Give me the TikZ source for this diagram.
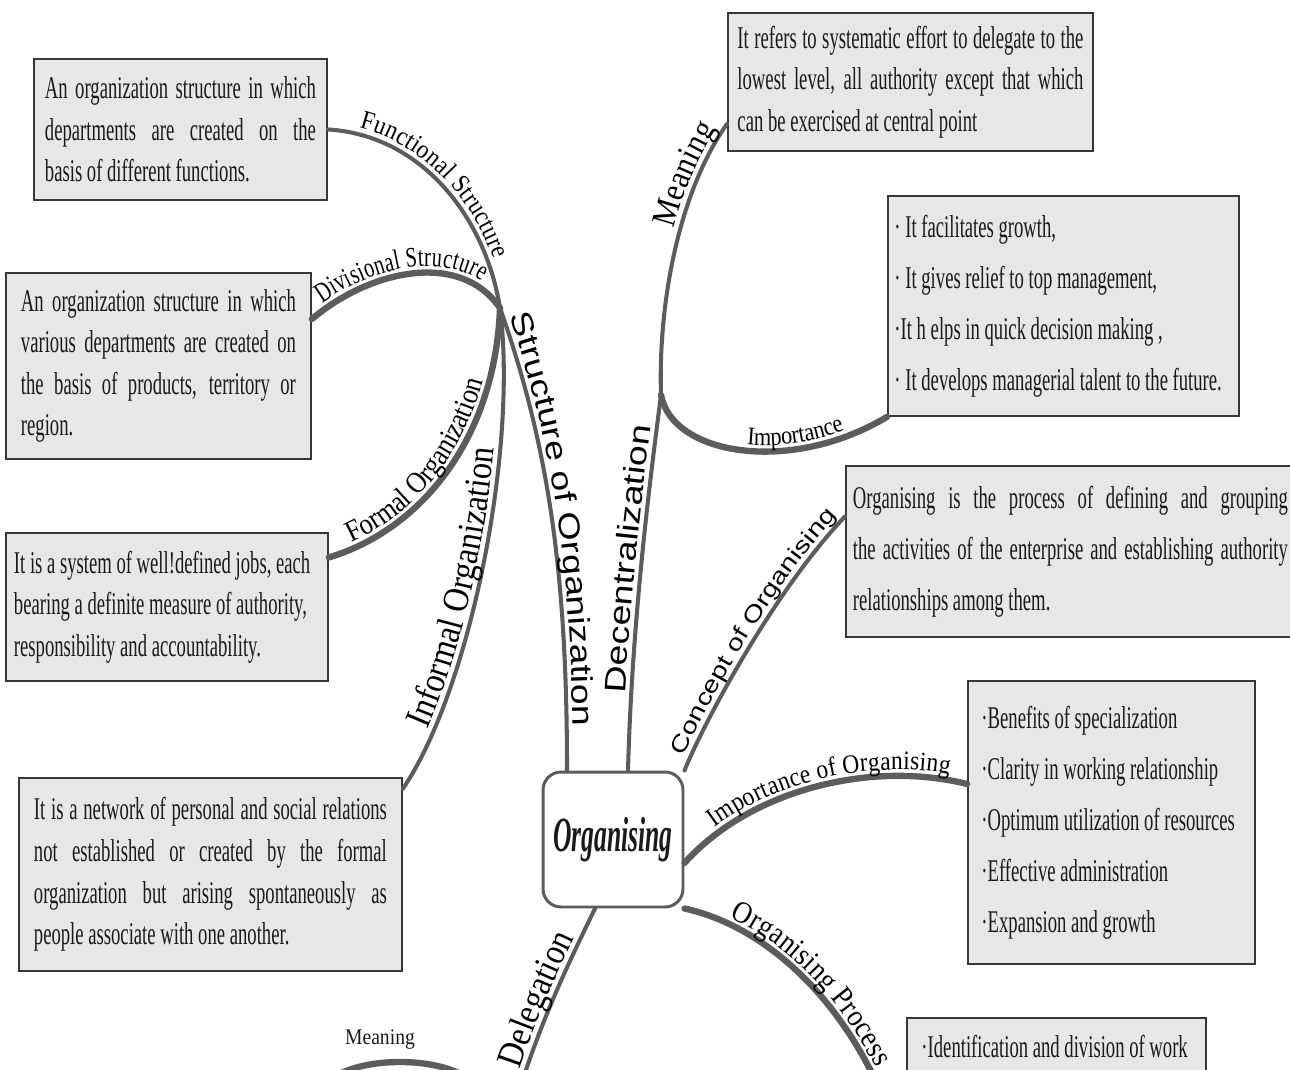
\documentclass[tikz,border=0pt]{standalone}
\usepackage{fontspec}
\setmainfont{Liberation Serif}
\newfontfamily\boxserif[FakeStretch=0.59]{Liberation Serif}
\newfontfamily\lblserif[FakeStretch=0.88]{Liberation Serif}
\newfontfamily\lblnarrow[FakeStretch=0.72]{Liberation Serif}
\newfontfamily\lblsans[FakeStretch=1.25]{Liberation Sans}
\newfontfamily\orgserif[FakeStretch=0.52]{Liberation Serif}
\usetikzlibrary{decorations.text}

\definecolor{branchgray}{RGB}{92,92,92}
\definecolor{boxfill}{RGB}{231,231,231}
\definecolor{boxline}{RGB}{55,55,55}
\definecolor{inkgray}{RGB}{25,25,25}

\newcommand{\tightspace}{\spaceskip=2.65pt plus 1.5pt minus 0.8pt\relax}
\newcommand{\jl}[1]{\makebox[\linewidth][s]{\tightspace #1}}
\newcommand{\pl}[1]{\mbox{\tightspace #1}}
\newcommand{\boxfont}[1]{\boxserif\fontsize{18}{#1}\selectfont}
\newcommand{\serifsz}[1]{\lblserif\fontsize{#1}{#1}\selectfont}
\newcommand{\narrowsz}[1]{\lblnarrow\fontsize{#1}{#1}\selectfont}
\newcommand{\sanssz}[1]{\lblsans\fontsize{#1}{#1}\selectfont}

\begin{document}
\begin{tikzpicture}[x=0.02cm, y=-0.02cm,
  infobox/.style n args={3}{draw=boxline, line width=1.1pt, fill=boxfill, anchor=north west,
    minimum width=#1, minimum height=#2, text width=#3, align=left, inner sep=0pt,
    text=inkgray, font=\boxfont{23.7}},
  loosebox/.style={font=\boxfont{29}},
  twig/.style={draw=branchgray, line width=2.3pt, line cap=round},
  bough/.style={draw=branchgray, line width=3.6pt, line cap=round},
  pathlabel/.style n args={3}{postaction={decorate, decoration={text along path,
    text={|#1|#2}, text align={#3}, raise=3.5pt}}}]
\useasboundingbox (0,0) rectangle (1290,1070);
\clip (0,0) rectangle (1290,1070);

% boxes on the left
\node[infobox={5.86cm}{2.82cm}{5.42cm}] (fbox) at (33,58)
  {\jl{An organization structure in which}\\ \jl{departments are created on the}\\
   \pl{basis of different functions.}};
\node[infobox={6.10cm}{3.72cm}{5.50cm}] (dbox) at (5,272)
  {\jl{An organization structure in which}\\ \jl{various departments are created on}\\
   \jl{the basis of products, territory or}\\ \pl{region.}};
\node[infobox={6.44cm}{2.96cm}{6.12cm}] (obox) at (5,532)
  {\pl{It is a system of well!defined jobs, each}\\ \pl{bearing a definite measure of authority,}\\
   \pl{responsibility and accountability.}};
\node[infobox={7.66cm}{3.86cm}{7.06cm}] (ibox) at (18,777)
  {\jl{It is a network of personal and social relations}\\ \jl{not established or created by the formal}\\
   \jl{organization but arising spontaneously as}\\ \pl{people associate with one another.}};

% boxes on the right
\node[infobox={7.30cm}{2.76cm}{6.92cm}] (mbox) at (727,12)
  {\jl{It refers to systematic effort to delegate to the}\\ \jl{lowest level, all authority except that which}\\
   \pl{can be exercised at central point}};
\node[infobox={7.02cm}{4.40cm}{6.76cm}, loosebox] (pbox) at (887,195)
  {\pl{· It facilitates growth,}\\ \pl{· It gives relief to top management,}\\
   \pl{·It h elps in quick decision making ,}\\ \pl{· It develops managerial talent to the future.}};
\node[infobox={8.98cm}{3.42cm}{8.70cm}, loosebox] (cbox) at (845,465)
  {\jl{Organising is the process of defining and grouping}\\
   \jl{the activities of the enterprise and establishing authority}\\ \pl{relationships among them.}};
\node[infobox={5.74cm}{5.66cm}{5.20cm}, loosebox] (gbox) at (967,680)
  {\pl{·Benefits of specialization}\\ \pl{·Clarity in working relationship}\\
   \pl{·Optimum utilization of resources}\\ \pl{·Effective administration}\\ \pl{·Expansion and growth}};
\node[infobox={5.98cm}{0cm}{5.40cm}, loosebox, inner ysep=0.36cm, text height=0.44cm, text depth=3cm] (sbox) at (906,1017)
  {\pl{·Identification and division of work}};

% centre
\node[draw=branchgray, line width=1.7pt, rounded corners=0.36cm, fill=white,
  minimum width=2.8cm, minimum height=2.7cm, text=inkgray,
  font=\orgserif\bfseries\itshape\fontsize{28}{28}\selectfont] (org) at (613,839.5) {Organising};

\coordinate (hub) at (500,308);
\coordinate (hubr) at (661,395);
\coordinate (procend) at (880,1090);
\coordinate (dlgend) at (521,1085);
\coordinate (dmeanL) at (330,1080);
\coordinate (dmeanR) at (470,1080);

% structure of organization
\draw[twig, pathlabel={\serifsz{15}}{Functional Structure}{left, left indent=0.6cm}]
  (fbox.east) .. controls (420,135) and (485,215) .. (hub);
\draw[bough, pathlabel={\narrowsz{16}}{Divisional Structure}{left, left indent=0.35cm}]
  (dbox.17) .. controls (370,270) and (460,250) .. (hub);
\draw[bough, pathlabel={\serifsz{17}}{Formal Organization}{left, left indent=0.55cm}]
  (obox.17) .. controls (420,530) and (495,440) .. (hub);
\draw[twig, pathlabel={\serifsz{21}}{Informal Organization}{left, left indent=1.3cm}]
  (ibox.24) .. controls (470,690) and (518,450) .. (hub);
\draw[twig, pathlabel={\sanssz{17}}{Structure of Organization}{left, left indent=0.2cm}]
  (hub) .. controls (550,450) and (567,580) .. ([xshift=-0.92cm]org.north);

% decentralization
\draw[twig, pathlabel={\sanssz{17}}{Decentralization}{left, left indent=1.54cm}]
  ([xshift=0.3cm]org.north) .. controls (632,620) and (650,480) .. (hubr);
\draw[twig, pathlabel={\serifsz{19.5}}{Meaning}{right, right indent=0.2cm}]
  (hubr) .. controls (658,300) and (680,190) .. ([yshift=-0.84cm]mbox.west);
\draw[bough, pathlabel={\serifsz{14.5}}{Importance}{right, right indent=0.9cm}]
  (hubr) .. controls (672,455) and (790,475) .. (pbox.south west);

% concept, importance, process
\draw[twig, pathlabel={\sanssz{13}}{Concept of Organising}{right, right indent=0.1cm}]
  (org.north east) .. controls (705,720) and (775,590) .. ([yshift=0.7cm]cbox.west);
\draw[bough, pathlabel={\serifsz{15.2}}{Importance of Organising}{left, left indent=0.9cm}]
  ([yshift=-0.47cm]org.east) .. controls (750,790) and (870,760) .. ([yshift=0.77cm]gbox.west);
\draw[bough, pathlabel={\serifsz{17.5}}{Organising Process}{left, left indent=0.9cm}]
  (org.south east) .. controls (760,925) and (835,990) .. (procend);

% delegation
\draw[twig, pathlabel={\serifsz{21}}{Delegation}{right, right indent=0.7cm}]
  (dlgend) .. controls (545,1010) and (575,950) .. ([xshift=-0.36cm]org.south);
\draw[bough] (dmeanL) .. controls (360,1056) and (440,1056) .. (dmeanR);
\node[font=\serifsz{12.7}, text=inkgray] (dmeanlbl) at (380,1040) {Meaning};
\end{tikzpicture}
\end{document}
